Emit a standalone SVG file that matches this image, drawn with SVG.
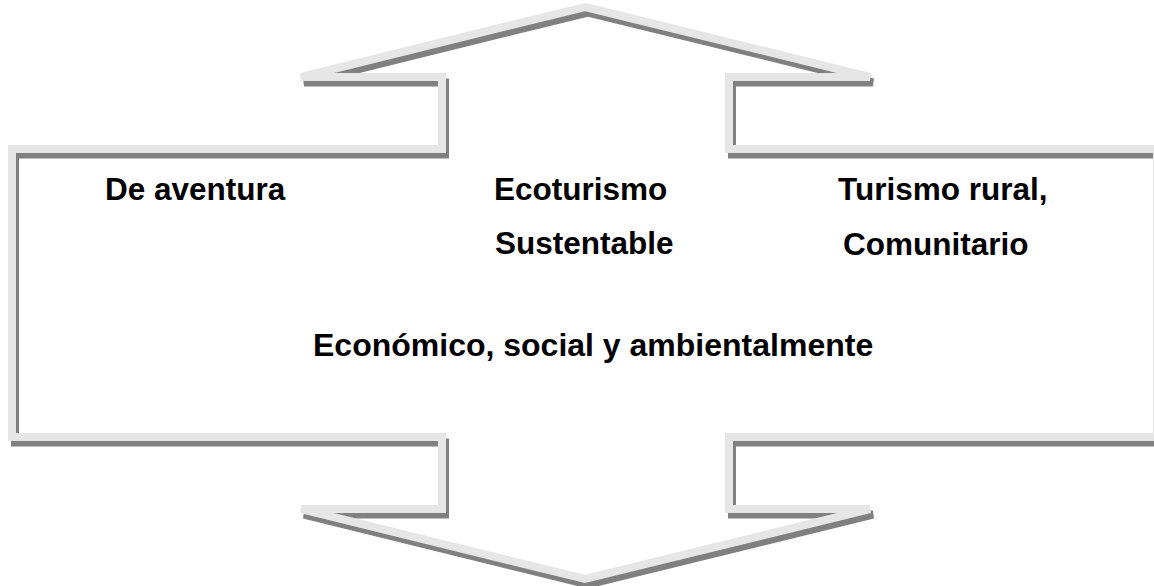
<svg xmlns="http://www.w3.org/2000/svg" width="1154" height="586" viewBox="0 0 1154 586">
<defs>
<style>
.shadow{fill:none;stroke:#808080;stroke-width:8;stroke-linejoin:miter;stroke-miterlimit:4}
.outline{fill:none;stroke:#e6e6e6;stroke-width:8;stroke-linejoin:miter;stroke-miterlimit:4}
.lbl{font-family:"Liberation Sans",Arial,sans-serif;font-weight:bold;font-size:31.5px;fill:#000}
</style>
<path id="arrowShape" d="M585,7 L870,77 L729,77 L729,149 L1157,149 L1157,437 L729,437 L729,509 L870,509 L585,579 L301,509 L442,509 L442,437 L12,437 L12,149 L442,149 L442,77 L301,77 Z"/>
</defs>
<rect width="1154" height="586" fill="#ffffff"/>
<g id="double-arrow">
<use href="#arrowShape" class="shadow" transform="translate(3,5.5)"/>
<use href="#arrowShape" class="outline"/>
</g>
<g id="labels">
<text class="lbl" x="105" y="200">De aventura</text>
<text class="lbl" x="494" y="200">Ecoturismo</text>
<text class="lbl" x="495" y="254">Sustentable</text>
<text class="lbl" x="838" y="200">Turismo rural,</text>
<text class="lbl" x="843" y="255">Comunitario</text>
<text class="lbl" x="313" y="356" style="font-size:32px">Económico, social y ambientalmente</text>
</g>
</svg>
